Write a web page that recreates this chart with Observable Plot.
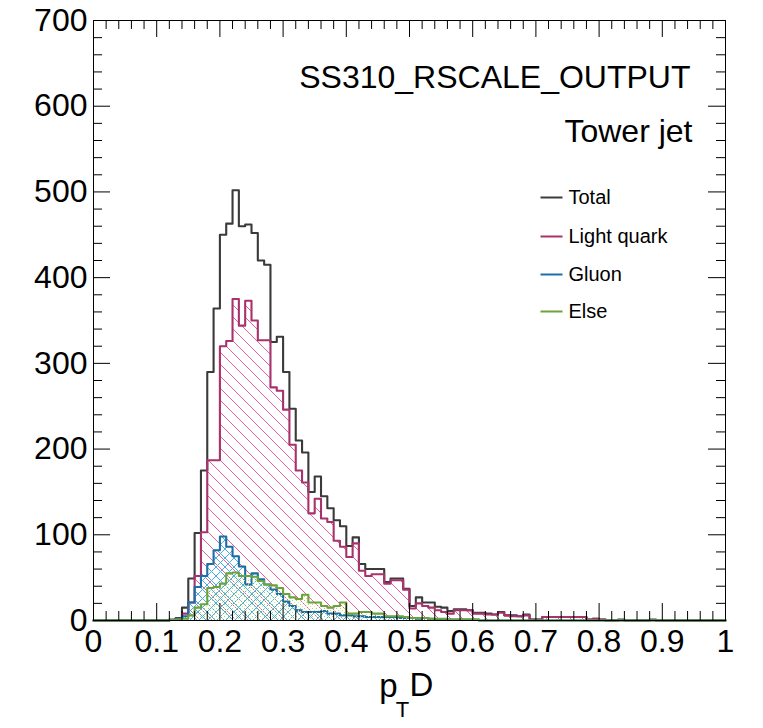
<!DOCTYPE html>
<html><head><meta charset="utf-8">
<script src="https://cdn.jsdelivr.net/npm/d3@7"></script>
<script src="https://cdn.jsdelivr.net/npm/@observablehq/plot@0.6"></script>
<style>
html,body{margin:0;padding:0;background:#fff;}
#chart{width:763px;height:728px;}
</style></head><body><div id="chart"></div>
<script>
// ---- data (100 bins of width 0.01 over pTD in [0,1]) ----
const binWidth = 0.01;
const total = [
  0,0,0,0,0,0,0,0,0,0, 0,0,1,3,15,49,102,175,290,364,
  450,463,502,460,462,452,420,415,325,331, 290,247,210,196,150,168,145,131,117,110,
  87,97,66,60,60,60,45,49,49,37, 17,27,21,21,16,15,11,13,13,12,
  9,9,8,7,10,6,6,5,7,1, 1,4,4,4,4,4,4,4,1,2,
  1,0,0,1,0,0,0,0,1,0, 0,0,0,0,0,0,0,0,0,0
];
const lightQuark = [
  0,0,0,0,0,0,0,0,0,0, 0,0,0.5,2,8,21,52,103,187,187,
  320,326,375,344,373,350,327,327,272,268, 246,205,175,161,125,142,119,115,93,86,
  74,90,58,52,54,54,43,47,47,36, 14,20,17,15,12,10,8,12,12,12,
  8,8,7,7,9,6,5,5,6,1, 1,4,4,4,4,4,4,4,1,2,
  1,0,0,0.5,0,0,0,0,0.5,0, 0,0,0,0,0,0,0,0,0,0
];
const gluon = [
  0,0,0,0,0,0,0,0,0,0, 0,0,0.5,2,5,21,39,52,66,82,
  98,86,75,63,42,55,48,42,36,31, 22,17,12,10,10,10,11,8,8,6,
  6,5,5,4,4,4,4,4,3,3, 3,2,3,2,1,1,1,1,1,1,
  1,0,0,0,0,0,0,0,0,0, 0,0,0,0,0,0,0,0,0,0,
  0,0,0,0,0,0,0,0,0,0, 0,0,0,0,0,0,0,0,0,0
];
const other = [
  0,0,0,0,0,0,0,0,0,0, 0,0,0.5,1,2,6,15,19,38,39,
  43,55,56,52,52,51,46,42,41,38, 31,27,25,30,21,21,17,15,17,21,
  8,8,10,10,8,8,5,5,5,4, 3,3,3,2,2,2,1,1,1,1,
  1,0,0,0,0,0,0,0,0,0, 0,0,0,0,0,0,0,0,0,0,
  0,0,0,0,0,0,0,0,0,0, 0,0,0,0,0,0,0,0,0,0
];
const xTicks = [0,0.1,0.2,0.3,0.4,0.5,0.6,0.7,0.8,0.9,1];
const xTickLabels = ["0","0.1","0.2","0.3","0.4","0.5","0.6","0.7","0.8","0.9","1"];
const yTicks = [0,100,200,300,400,500,600,700];
const yTickLabels = ["0","100","200","300","400","500","600","700"];
const legendNames = ["Total","Light quark","Gluon","Else"];
const titleLines = ["SS310_RSCALE_OUTPUT","Tower jet"];

// ---- style ----
const lineColors = ["#3a3a3a","#a8326c","#1b6ea6","#6ba43a"];
const fillIds = [null,"url(#hatchLQ)","url(#hatchG)","url(#dotsE)"];
const W = 763, H = 728, mL = 93, mR = 38, mT = 20, mB = 108;
const fw = W - mL - mR, fh = H - mT - mB;
const xMinor = d3.range(0, 1.0001, 0.02).filter(v => Math.abs(v*10 - Math.round(v*10)) > 1e-6);
const yMinor = d3.range(0, 701, 20).filter(v => v % 100 !== 0);

function steps(values){
  const rows = values.map((v,i) => ({x: i*binWidth, y: v}));
  rows.push({x: values.length*binWidth, y: values[values.length-1]});
  return rows;
}
const series = [total, lightQuark, gluon, other];

const marks = [];
series.forEach((vals, k) => {
  const rows = steps(vals);
  if (fillIds[k]) marks.push(Plot.areaY(rows, {x:"x", y:"y", curve:"step-after", fill: fillIds[k]}));
  marks.push(Plot.lineY(rows, {x:"x", y:"y", curve:"step-after", stroke: lineColors[k], strokeWidth: 2.1}));
});

// inward ticks on all four sides
const MAJ = 17, MIN = 9;
marks.push(
  Plot.tickX(xTicks, {x: d=>d, insetTop: fh - MAJ, stroke:"#000"}),
  Plot.tickX(xMinor, {x: d=>d, insetTop: fh - MIN, stroke:"#000"}),
  Plot.tickX(xTicks, {x: d=>d, insetBottom: fh - MAJ, stroke:"#000"}),
  Plot.tickX(xMinor, {x: d=>d, insetBottom: fh - MIN, stroke:"#000"}),
  Plot.tickY(yTicks, {y: d=>d, insetRight: fw - MAJ, stroke:"#000"}),
  Plot.tickY(yMinor, {y: d=>d, insetRight: fw - MIN, stroke:"#000"}),
  Plot.tickY(yTicks, {y: d=>d, insetLeft: fw - MAJ, stroke:"#000"}),
  Plot.tickY(yMinor, {y: d=>d, insetLeft: fw - MIN, stroke:"#000"}),
  Plot.axisX({ticks: xTicks, tickFormat: d => xTickLabels[xTicks.indexOf(d)], tickSize: 0, tickPadding: 9, fontSize: 32, label: null, fill: "#000"}),
  Plot.axisY({ticks: yTicks, tickFormat: d => yTickLabels[yTicks.indexOf(d)], tickSize: 0, tickPadding: 6, fontSize: 32, label: null, fill: "#000"}),
  Plot.frame({stroke:"#000", strokeWidth: 1})
);

// in-frame title lines
marks.push(
  Plot.text([titleLines[0]], {text: d=>d, frameAnchor:"top-right", dx:-35, dy:57, textAnchor:"end", lineAnchor:"middle", fontSize: 32, fill:"#000"}),
  Plot.text([titleLines[1]], {text: d=>d, frameAnchor:"top-right", dx:-33, dy:111, textAnchor:"end", lineAnchor:"middle", fontSize: 32, fill:"#000"})
);

// legend
const hline = {draw(ctx){ ctx.moveTo(-11,0); ctx.lineTo(11,0); }};
const legendDy = [177, 216, 254, 291];
legendNames.forEach((name, i) => {
  marks.push(Plot.dot([name], {frameAnchor:"top-left", dx: 458, dy: legendDy[i], symbol: hline, stroke: lineColors[i], strokeWidth: 2, fill: "none"}));
  marks.push(Plot.text([name], {text: d=>d, frameAnchor:"top-left", dx: 475, dy: legendDy[i], textAnchor:"start", lineAnchor:"middle", fontSize: 20, fill:"#000"}));
});

// x axis title p_T D
marks.push(
  Plot.text(["p"], {text: d=>d, frameAnchor:"bottom", dx:-21, dy:66, textAnchor:"middle", lineAnchor:"middle", fontSize: 33, fill:"#000"}),
  Plot.text(["T"], {text: d=>d, frameAnchor:"bottom", dx:-7, dy:89, textAnchor:"middle", lineAnchor:"middle", fontSize: 22, fill:"#000"}),
  Plot.text(["D"], {text: d=>d, frameAnchor:"bottom", dx:12, dy:65, textAnchor:"middle", lineAnchor:"middle", fontSize: 33, fill:"#000"})
);

const chart = Plot.plot({
  width: W, height: H,
  marginLeft: mL, marginRight: mR, marginTop: mT, marginBottom: mB,
  x: {domain: [0, 1]},
  y: {domain: [0, 700]},
  style: {fontFamily: "'Liberation Sans', Arial, Helvetica, sans-serif", background: "#fff", color: "#000", overflow: "visible"},
  marks
});
const svg = chart.tagName.toLowerCase() === "svg" ? chart : chart.querySelector("svg");
const defs = document.createElementNS("http://www.w3.org/2000/svg", "defs");
defs.innerHTML = `
<pattern id="hatchLQ" patternUnits="userSpaceOnUse" width="12" height="12">
  <path d="M-1,-1L13,13M-1,11L1,13M11,-1L13,1" stroke="#e2609f" stroke-width="1" fill="none"/>
</pattern>
<pattern id="hatchG" patternUnits="userSpaceOnUse" width="9" height="9">
  <path d="M-1,-1L10,10M-1,8L1,10M8,-1L10,1M-1,10L10,-1M-1,1L1,-1M8,10L10,8" stroke="#4aaee2" stroke-width="1" fill="none"/>
</pattern>
<pattern id="dotsE" patternUnits="userSpaceOnUse" width="4" height="4">
  <rect x="0" y="0" width="1" height="1" fill="#b4d45e"/>
  <rect x="2" y="2" width="1" height="1" fill="#cfe39a"/>
</pattern>`;
svg.insertBefore(defs, svg.firstChild);
document.getElementById("chart").appendChild(chart);
</script>
</body></html>
